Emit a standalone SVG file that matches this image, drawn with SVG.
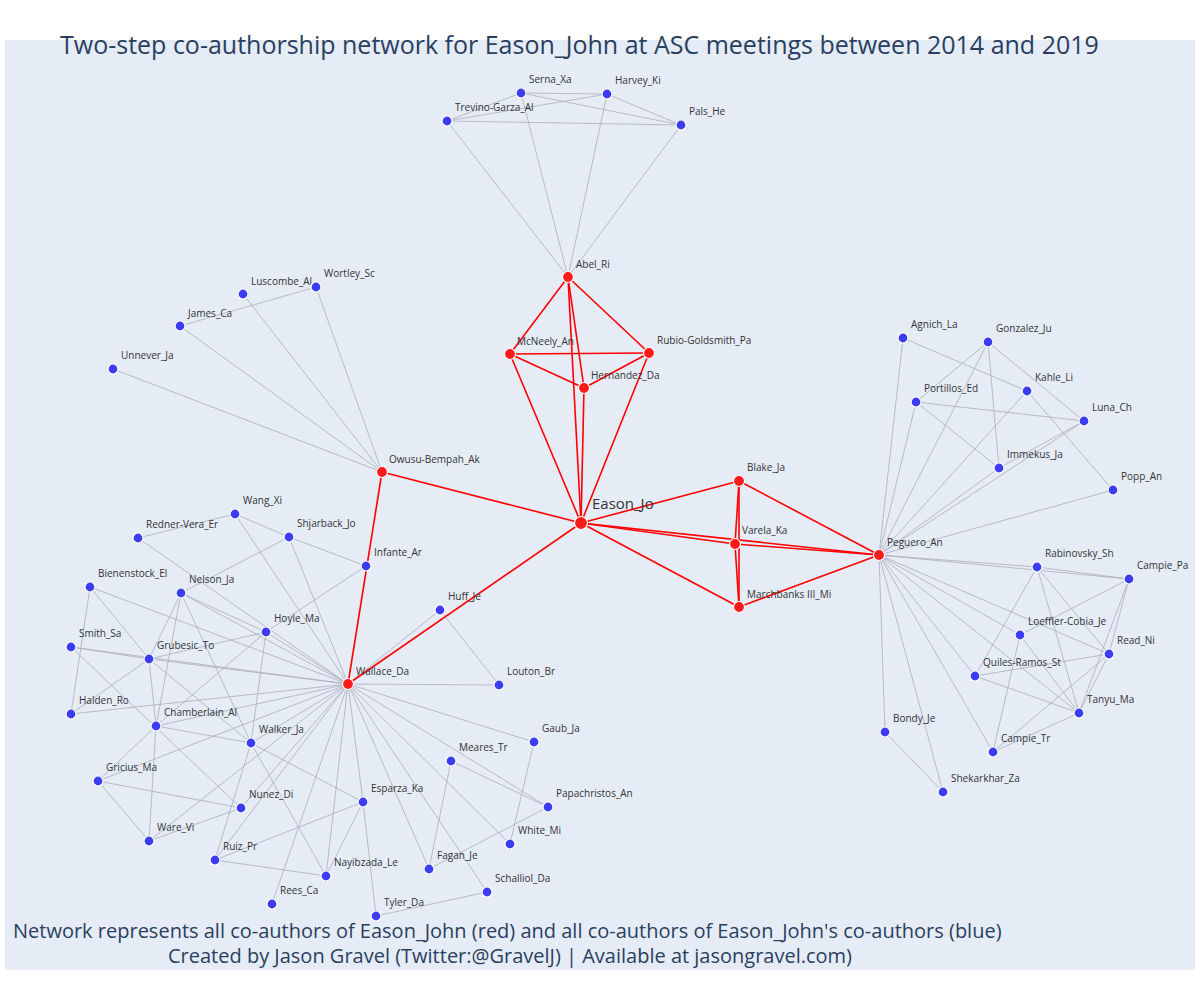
<svg xmlns="http://www.w3.org/2000/svg" width="1200" height="1000" viewBox="0 0 1200 1000">
<style>
.bg{fill:#e5ecf6}
.t{font-family:"Open Sans","Liberation Sans",sans-serif;fill:#2a3f5f}
.e line{stroke:#a9adbb;stroke-width:0.8}
.re line{stroke:#ff0000;stroke-width:1.6}
.b{fill:#3c3cf2;stroke:#ffffff;stroke-width:1.2}
.r{fill:#ff1a1a;stroke:#ffffff;stroke-width:1.2}
.lb{font-family:"Open Sans","Liberation Sans",sans-serif;font-size:10px;fill:#333}
.big{font-size:15px}
</style>
<rect x="0" y="0" width="1200" height="1000" fill="#ffffff"/>
<rect class="bg" x="5" y="40" width="1190" height="930"/>
<text class="t" x="60" y="54" style="font-size:25px">Two-step co-authorship network for Eason_John at ASC meetings between 2014 and 2019</text>

<g id="edges">
<g class="e">
<line x1="521" y1="93" x2="607" y2="94"/>
<line x1="521" y1="93" x2="447" y2="121"/>
<line x1="521" y1="93" x2="681" y2="125"/>
<line x1="607" y1="94" x2="447" y2="121"/>
<line x1="607" y1="94" x2="681" y2="125"/>
<line x1="447" y1="121" x2="681" y2="125"/>
<line x1="568" y1="277" x2="521" y2="93"/>
<line x1="568" y1="277" x2="607" y2="94"/>
<line x1="568" y1="277" x2="447" y2="121"/>
<line x1="568" y1="277" x2="681" y2="125"/>
<line x1="382" y1="472" x2="113" y2="369"/>
<line x1="382" y1="472" x2="180" y2="326"/>
<line x1="382" y1="472" x2="243" y2="294"/>
<line x1="382" y1="472" x2="316" y2="287"/>
<line x1="180" y1="326" x2="316" y2="287"/>
<line x1="879" y1="555" x2="903" y2="338"/>
<line x1="879" y1="555" x2="988" y2="342"/>
<line x1="879" y1="555" x2="1027" y2="391"/>
<line x1="879" y1="555" x2="916" y2="402"/>
<line x1="879" y1="555" x2="1084" y2="421"/>
<line x1="879" y1="555" x2="999" y2="468"/>
<line x1="879" y1="555" x2="1113" y2="490"/>
<line x1="903" y1="338" x2="1027" y2="391"/>
<line x1="988" y1="342" x2="916" y2="402"/>
<line x1="988" y1="342" x2="999" y2="468"/>
<line x1="988" y1="342" x2="1084" y2="421"/>
<line x1="1027" y1="391" x2="1113" y2="490"/>
<line x1="916" y1="402" x2="1084" y2="421"/>
<line x1="916" y1="402" x2="999" y2="468"/>
<line x1="1084" y1="421" x2="999" y2="468"/>
<line x1="879" y1="555" x2="1037" y2="567"/>
<line x1="879" y1="555" x2="1129" y2="579"/>
<line x1="879" y1="555" x2="1109" y2="654"/>
<line x1="879" y1="555" x2="1020" y2="635"/>
<line x1="879" y1="555" x2="975" y2="676"/>
<line x1="879" y1="555" x2="1079" y2="713"/>
<line x1="879" y1="555" x2="993" y2="752"/>
<line x1="879" y1="555" x2="943" y2="792"/>
<line x1="879" y1="555" x2="885" y2="732"/>
<line x1="1037" y1="567" x2="1129" y2="579"/>
<line x1="1037" y1="567" x2="975" y2="676"/>
<line x1="1037" y1="567" x2="1079" y2="713"/>
<line x1="1037" y1="567" x2="1109" y2="654"/>
<line x1="1129" y1="579" x2="1020" y2="635"/>
<line x1="1129" y1="579" x2="1079" y2="713"/>
<line x1="1129" y1="579" x2="1109" y2="654"/>
<line x1="1109" y1="654" x2="1079" y2="713"/>
<line x1="1020" y1="635" x2="1079" y2="713"/>
<line x1="1020" y1="635" x2="993" y2="752"/>
<line x1="975" y1="676" x2="1109" y2="654"/>
<line x1="975" y1="676" x2="1079" y2="713"/>
<line x1="1109" y1="654" x2="993" y2="752"/>
<line x1="1079" y1="713" x2="993" y2="752"/>
<line x1="885" y1="732" x2="943" y2="792"/>
<line x1="348" y1="684" x2="235" y2="514"/>
<line x1="348" y1="684" x2="289" y2="537"/>
<line x1="348" y1="684" x2="138" y2="538"/>
<line x1="348" y1="684" x2="181" y2="593"/>
<line x1="348" y1="684" x2="266" y2="632"/>
<line x1="348" y1="684" x2="90" y2="587"/>
<line x1="348" y1="684" x2="71" y2="647"/>
<line x1="348" y1="684" x2="149" y2="659"/>
<line x1="348" y1="684" x2="71" y2="714"/>
<line x1="348" y1="684" x2="156" y2="726"/>
<line x1="348" y1="684" x2="98" y2="781"/>
<line x1="348" y1="684" x2="251" y2="743"/>
<line x1="348" y1="684" x2="149" y2="841"/>
<line x1="348" y1="684" x2="241" y2="808"/>
<line x1="348" y1="684" x2="215" y2="860"/>
<line x1="348" y1="684" x2="272" y2="904"/>
<line x1="348" y1="684" x2="326" y2="876"/>
<line x1="348" y1="684" x2="363" y2="802"/>
<line x1="348" y1="684" x2="429" y2="869"/>
<line x1="348" y1="684" x2="487" y2="892"/>
<line x1="348" y1="684" x2="510" y2="844"/>
<line x1="348" y1="684" x2="548" y2="807"/>
<line x1="348" y1="684" x2="534" y2="742"/>
<line x1="348" y1="684" x2="499" y2="685"/>
<line x1="348" y1="684" x2="440" y2="610"/>
<line x1="235" y1="514" x2="138" y2="538"/>
<line x1="235" y1="514" x2="289" y2="537"/>
<line x1="289" y1="537" x2="181" y2="593"/>
<line x1="289" y1="537" x2="366" y2="566"/>
<line x1="366" y1="566" x2="266" y2="632"/>
<line x1="266" y1="632" x2="156" y2="726"/>
<line x1="266" y1="632" x2="149" y2="659"/>
<line x1="266" y1="632" x2="251" y2="743"/>
<line x1="181" y1="593" x2="266" y2="632"/>
<line x1="181" y1="593" x2="149" y2="659"/>
<line x1="181" y1="593" x2="156" y2="726"/>
<line x1="181" y1="593" x2="251" y2="743"/>
<line x1="90" y1="587" x2="71" y2="714"/>
<line x1="90" y1="587" x2="149" y2="659"/>
<line x1="71" y1="647" x2="149" y2="659"/>
<line x1="71" y1="647" x2="241" y2="808"/>
<line x1="149" y1="659" x2="71" y2="714"/>
<line x1="149" y1="659" x2="156" y2="726"/>
<line x1="149" y1="659" x2="251" y2="743"/>
<line x1="156" y1="726" x2="251" y2="743"/>
<line x1="156" y1="726" x2="98" y2="781"/>
<line x1="156" y1="726" x2="149" y2="841"/>
<line x1="98" y1="781" x2="241" y2="808"/>
<line x1="98" y1="781" x2="149" y2="841"/>
<line x1="149" y1="841" x2="241" y2="808"/>
<line x1="251" y1="743" x2="363" y2="802"/>
<line x1="251" y1="743" x2="215" y2="860"/>
<line x1="251" y1="743" x2="326" y2="876"/>
<line x1="363" y1="802" x2="215" y2="860"/>
<line x1="363" y1="802" x2="326" y2="876"/>
<line x1="363" y1="802" x2="376" y2="916"/>
<line x1="215" y1="860" x2="326" y2="876"/>
<line x1="376" y1="916" x2="487" y2="892"/>
<line x1="440" y1="610" x2="499" y2="685"/>
<line x1="534" y1="742" x2="510" y2="844"/>
<line x1="451" y1="761" x2="548" y2="807"/>
<line x1="451" y1="761" x2="429" y2="869"/>
<line x1="548" y1="807" x2="429" y2="869"/>
</g>
<g class="re">
<line x1="581" y1="523" x2="568" y2="277"/>
<line x1="581" y1="523" x2="510" y2="354"/>
<line x1="581" y1="523" x2="649" y2="353"/>
<line x1="581" y1="523" x2="584" y2="388"/>
<line x1="581" y1="523" x2="382" y2="472"/>
<line x1="581" y1="523" x2="348" y2="684"/>
<line x1="581" y1="523" x2="739" y2="481"/>
<line x1="581" y1="523" x2="735" y2="544"/>
<line x1="581" y1="523" x2="739" y2="607"/>
<line x1="581" y1="523" x2="879" y2="555"/>
<line x1="568" y1="277" x2="510" y2="354"/>
<line x1="568" y1="277" x2="649" y2="353"/>
<line x1="568" y1="277" x2="584" y2="388"/>
<line x1="510" y1="354" x2="649" y2="353"/>
<line x1="510" y1="354" x2="584" y2="388"/>
<line x1="584" y1="388" x2="649" y2="353"/>
<line x1="382" y1="472" x2="348" y2="684"/>
<line x1="739" y1="481" x2="735" y2="544"/>
<line x1="739" y1="481" x2="739" y2="607"/>
<line x1="739" y1="481" x2="879" y2="555"/>
<line x1="735" y1="544" x2="739" y2="607"/>
<line x1="735" y1="544" x2="879" y2="555"/>
<line x1="739" y1="607" x2="879" y2="555"/>
</g>
</g>

<g id="nodes">
<g id="n-serna"><circle class="b" cx="521" cy="93" r="5"/><text class="lb" x="529" y="83">Serna_Xa</text></g>
<g id="n-harvey"><circle class="b" cx="607" cy="94" r="5"/><text class="lb" x="615" y="84">Harvey_Ki</text></g>
<g id="n-trevino"><circle class="b" cx="447" cy="121" r="5"/><text class="lb" x="455" y="111">Trevino-Garza_Al</text></g>
<g id="n-pals"><circle class="b" cx="681" cy="125" r="5"/><text class="lb" x="689" y="115">Pals_He</text></g>
<g id="n-luscombe"><circle class="b" cx="243" cy="294" r="5"/><text class="lb" x="251" y="285">Luscombe_Al</text></g>
<g id="n-wortley"><circle class="b" cx="316" cy="287" r="5"/><text class="lb" x="324" y="277">Wortley_Sc</text></g>
<g id="n-james"><circle class="b" cx="180" cy="326" r="5"/><text class="lb" x="188" y="317">James_Ca</text></g>
<g id="n-unnever"><circle class="b" cx="113" cy="369" r="5"/><text class="lb" x="121" y="359">Unnever_Ja</text></g>
<g id="n-agnich"><circle class="b" cx="903" cy="338" r="5"/><text class="lb" x="911" y="328">Agnich_La</text></g>
<g id="n-gonzalez"><circle class="b" cx="988" cy="342" r="5"/><text class="lb" x="996" y="332">Gonzalez_Ju</text></g>
<g id="n-kahle"><circle class="b" cx="1027" cy="391" r="5"/><text class="lb" x="1035" y="381">Kahle_Li</text></g>
<g id="n-portillos"><circle class="b" cx="916" cy="402" r="5"/><text class="lb" x="924" y="392">Portillos_Ed</text></g>
<g id="n-luna"><circle class="b" cx="1084" cy="421" r="5"/><text class="lb" x="1092" y="411">Luna_Ch</text></g>
<g id="n-immekus"><circle class="b" cx="999" cy="468" r="5"/><text class="lb" x="1007" y="458">Immekus_Ja</text></g>
<g id="n-popp"><circle class="b" cx="1113" cy="490" r="5"/><text class="lb" x="1121" y="480">Popp_An</text></g>
<g id="n-rabinovsky"><circle class="b" cx="1037" cy="567" r="5"/><text class="lb" x="1045" y="557">Rabinovsky_Sh</text></g>
<g id="n-campiepa"><circle class="b" cx="1129" cy="579" r="5"/><text class="lb" x="1137" y="569">Campie_Pa</text></g>
<g id="n-loeffler"><circle class="b" cx="1020" cy="635" r="5"/><text class="lb" x="1028" y="625">Loeffler-Cobia_Je</text></g>
<g id="n-read"><circle class="b" cx="1109" cy="654" r="5"/><text class="lb" x="1117" y="644">Read_Ni</text></g>
<g id="n-quiles"><circle class="b" cx="975" cy="676" r="5"/><text class="lb" x="983" y="666">Quiles-Ramos_St</text></g>
<g id="n-tanyu"><circle class="b" cx="1079" cy="713" r="5"/><text class="lb" x="1087" y="703">Tanyu_Ma</text></g>
<g id="n-bondy"><circle class="b" cx="885" cy="732" r="5"/><text class="lb" x="893" y="722">Bondy_Je</text></g>
<g id="n-campietr"><circle class="b" cx="993" cy="752" r="5"/><text class="lb" x="1001" y="742">Campie_Tr</text></g>
<g id="n-shekarkhar"><circle class="b" cx="943" cy="792" r="5"/><text class="lb" x="951" y="782">Shekarkhar_Za</text></g>
<g id="n-wang"><circle class="b" cx="235" cy="514" r="5"/><text class="lb" x="243" y="504">Wang_Xi</text></g>
<g id="n-redner"><circle class="b" cx="138" cy="538" r="5"/><text class="lb" x="146" y="528">Redner-Vera_Er</text></g>
<g id="n-shjarback"><circle class="b" cx="289" cy="537" r="5"/><text class="lb" x="297" y="527">Shjarback_Jo</text></g>
<g id="n-infante"><circle class="b" cx="366" cy="566" r="5"/><text class="lb" x="374" y="556">Infante_Ar</text></g>
<g id="n-bienenstock"><circle class="b" cx="90" cy="587" r="5"/><text class="lb" x="98" y="577">Bienenstock_El</text></g>
<g id="n-nelson"><circle class="b" cx="181" cy="593" r="5"/><text class="lb" x="189" y="583">Nelson_Ja</text></g>
<g id="n-hoyle"><circle class="b" cx="266" cy="632" r="5"/><text class="lb" x="274" y="622">Hoyle_Ma</text></g>
<g id="n-smith"><circle class="b" cx="71" cy="647" r="5"/><text class="lb" x="79" y="637">Smith_Sa</text></g>
<g id="n-grubesic"><circle class="b" cx="149" cy="659" r="5"/><text class="lb" x="157" y="649">Grubesic_To</text></g>
<g id="n-halden"><circle class="b" cx="71" cy="714" r="5"/><text class="lb" x="79" y="704">Halden_Ro</text></g>
<g id="n-chamberlain"><circle class="b" cx="156" cy="726" r="5"/><text class="lb" x="164" y="716">Chamberlain_Al</text></g>
<g id="n-walker"><circle class="b" cx="251" cy="743" r="5"/><text class="lb" x="259" y="733">Walker_Ja</text></g>
<g id="n-gricius"><circle class="b" cx="98" cy="781" r="5"/><text class="lb" x="106" y="771">Gricius_Ma</text></g>
<g id="n-nunez"><circle class="b" cx="241" cy="808" r="5"/><text class="lb" x="249" y="798">Nunez_Di</text></g>
<g id="n-esparza"><circle class="b" cx="363" cy="802" r="5"/><text class="lb" x="371" y="792">Esparza_Ka</text></g>
<g id="n-ware"><circle class="b" cx="149" cy="841" r="5"/><text class="lb" x="157" y="831">Ware_Vi</text></g>
<g id="n-ruiz"><circle class="b" cx="215" cy="860" r="5"/><text class="lb" x="223" y="850">Ruiz_Pr</text></g>
<g id="n-nayibzada"><circle class="b" cx="326" cy="876" r="5"/><text class="lb" x="334" y="866">Nayibzada_Le</text></g>
<g id="n-rees"><circle class="b" cx="272" cy="904" r="5"/><text class="lb" x="280" y="894">Rees_Ca</text></g>
<g id="n-tyler"><circle class="b" cx="376" cy="916" r="5"/><text class="lb" x="384" y="906">Tyler_Da</text></g>
<g id="n-huff"><circle class="b" cx="440" cy="610" r="5"/><text class="lb" x="448" y="600">Huff_Je</text></g>
<g id="n-louton"><circle class="b" cx="499" cy="685" r="5"/><text class="lb" x="507" y="675">Louton_Br</text></g>
<g id="n-gaub"><circle class="b" cx="534" cy="742" r="5"/><text class="lb" x="542" y="732">Gaub_Ja</text></g>
<g id="n-meares"><circle class="b" cx="451" cy="761" r="5"/><text class="lb" x="459" y="751">Meares_Tr</text></g>
<g id="n-papachristos"><circle class="b" cx="548" cy="807" r="5"/><text class="lb" x="556" y="797">Papachristos_An</text></g>
<g id="n-white"><circle class="b" cx="510" cy="844" r="5"/><text class="lb" x="518" y="834">White_Mi</text></g>
<g id="n-fagan"><circle class="b" cx="429" cy="869" r="5"/><text class="lb" x="437" y="859">Fagan_Je</text></g>
<g id="n-schalliol"><circle class="b" cx="487" cy="892" r="5"/><text class="lb" x="495" y="882">Schalliol_Da</text></g>

<g id="n-abel"><circle class="r" cx="568" cy="277" r="5.5"/><text class="lb" x="576" y="268">Abel_Ri</text></g>
<g id="n-mcneely"><circle class="r" cx="510" cy="354" r="5.5"/><text class="lb" x="517" y="345">McNeely_An</text></g>
<g id="n-rubio"><circle class="r" cx="649" cy="353" r="5.5"/><text class="lb" x="657" y="344">Rubio-Goldsmith_Pa</text></g>
<g id="n-hernandez"><circle class="r" cx="584" cy="388" r="5.5"/><text class="lb" x="591" y="379">Hernandez_Da</text></g>
<g id="n-owusu"><circle class="r" cx="382" cy="472" r="5.5"/><text class="lb" x="389" y="463">Owusu-Bempah_Ak</text></g>
<g id="n-wallace"><circle class="r" cx="348" cy="684" r="5.5"/><text class="lb" x="356" y="675">Wallace_Da</text></g>
<g id="n-blake"><circle class="r" cx="739" cy="481" r="5.5"/><text class="lb" x="747" y="471">Blake_Ja</text></g>
<g id="n-varela"><circle class="r" cx="735" cy="544" r="5.5"/><text class="lb" x="742" y="534">Varela_Ka</text></g>
<g id="n-marchbanks"><circle class="r" cx="739" cy="607" r="5.5"/><text class="lb" x="747" y="598">Marchbanks III_Mi</text></g>
<g id="n-peguero"><circle class="r" cx="879" cy="555" r="5.5"/><text class="lb" x="887" y="546">Peguero_An</text></g>
<g id="n-eason"><circle class="r" cx="581" cy="523" r="6.5"/><text class="lb big" x="592" y="509">Eason_Jo</text></g>
</g>

<text class="t" x="13" y="938" style="font-size:20px">Network represents all co-authors of Eason_John (red) and all co-authors of Eason_John's co-authors (blue)</text>
<text class="t" x="168" y="963" style="font-size:20px">Created by Jason Gravel (Twitter:@GravelJ) | Available at jasongravel.com)</text>
</svg>
